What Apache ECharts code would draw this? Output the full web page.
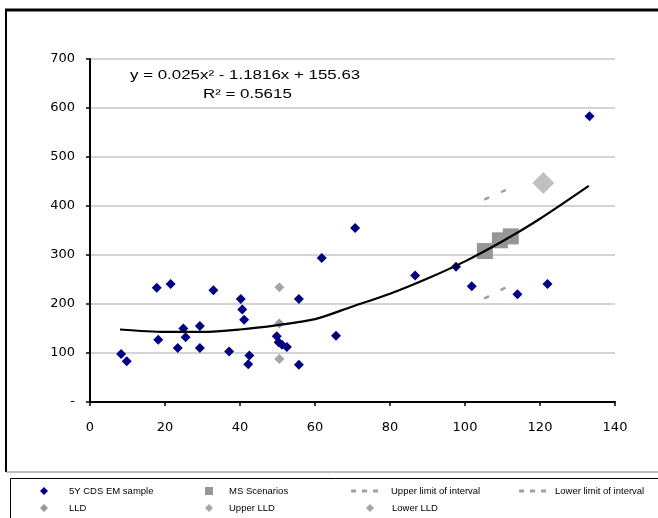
<!DOCTYPE html>
<html>
<head>
<meta charset="utf-8">
<script src="https://cdn.jsdelivr.net/npm/echarts@6/dist/echarts.min.js"></script>
<style>
    html, body { margin: 0; padding: 0; background: #fff; }
    #chart { width: 658px; height: 518px; }
</style>
</head>
<body>
<div id="chart"></div>
<script>
// 5Y CDS EM sample points [x, y]
const cdsSample = [
    [8.3, 98], [9.8, 83], [17.8, 233], [21.5, 241], [32.9, 228], [18.2, 127],
    [24.9, 150], [25.5, 132], [23.4, 110], [29.3, 155], [29.3, 110], [37.1, 103],
    [40.2, 210], [40.6, 189], [41.1, 168], [42.5, 95], [42.2, 77], [49.8, 134],
    [50.3, 122], [51.2, 117], [52.5, 112], [55.7, 210], [55.7, 76], [61.8, 294],
    [65.6, 135], [70.7, 355], [86.7, 258], [97.6, 276], [101.8, 236], [114, 220],
    [122, 241], [133.2, 583]
];
const msScenarios = [[105.3, 308], [109.3, 330], [112.2, 338]];
const upperLimit = [[105.1, 413], [110.9, 433]];
const lowerLimit = [[105.1, 211], [110.9, 234]];
const lld = [[50.5, 160]];
const upperLld = [[50.5, 234]];
const lowerLld = [[50.5, 88]];
const scenarioPeak = [[120.9, 447]];

// polynomial trend line
const trendX = [8, 20, 30, 40, 50, 60, 70, 80, 90, 100, 110, 120, 133];
const trendY = [148, 143, 143, 148, 157, 169, 195, 221, 252, 287, 328, 374, 441];

const xTicks = [0, 140, 20];
const yTicks = [0, 700, 100];

const navy = '#000080';
const font = 'Liberation Sans';

// one legend component per item so each can sit where the original has it
function legendItem(name, icon, left, top, w, h, pad) {
    return {
        data: [name],
        icon: icon,
        left: left,
        top: top,
        padding: 0,
        itemWidth: w,
        itemHeight: h,
        itemStyle: { borderWidth: 0 },
        textStyle: {
            fontFamily: font,
            fontSize: 9.5,
            color: '#000',
            padding: [0, 0, 0, pad]
        }
    };
}

const dashIcon = 'path://M0,0h5v3h-5zM11,0h5v3h-5zM22,0h5v3h-5z';

const chart = echarts.init(document.getElementById('chart'), null, { renderer: 'canvas' });
chart.setOption({
    animation: false,
    backgroundColor: '#fff',
    grid: { left: 90, top: 59, width: 525, height: 343 },
    xAxis: {
        type: 'value',
        min: xTicks[0],
        max: xTicks[1],
        interval: xTicks[2],
        axisLine: { show: true, lineStyle: { color: '#000', width: 2 } },
        axisTick: { show: true, length: 4, lineStyle: { color: '#000', width: 1.5 } },
        axisLabel: { margin: 19, color: '#000', fontFamily: 'DejaVu Sans', fontSize: 13 },
        splitLine: { show: false }
    },
    yAxis: {
        type: 'value',
        min: yTicks[0],
        max: yTicks[1],
        interval: yTicks[2],
        axisLine: { show: true, lineStyle: { color: '#000', width: 2 } },
        axisTick: { show: true, length: 4, lineStyle: { color: '#000', width: 1.5 } },
        axisLabel: {
            margin: 15,
            color: '#000',
            fontFamily: 'DejaVu Sans',
            fontSize: 13,
            formatter: function (v) { return v === 0 ? '-' : v; }
        },
        splitLine: { show: true, lineStyle: { color: '#d4d4d4', width: 2 } }
    },
    legend: [
        legendItem('5Y CDS EM sample', 'diamond', 40, 486, 8, 8, 16),
        legendItem('MS Scenarios', 'rect', 205, 486, 8, 8, 11),
        legendItem('Upper limit of interval', dashIcon, 351, 486, 27, 3, 8),
        legendItem('Lower limit of interval', dashIcon, 519, 486, 27, 3, 4),
        legendItem('LLD', 'diamond', 40, 503, 8, 8, 16),
        legendItem('Upper LLD', 'diamond', 205, 503, 8, 8, 11),
        legendItem('Lower LLD', 'diamond', 366, 503, 8, 8, 13)
    ],
    graphic: [
        // chart frame
        { type: 'line', shape: { x1: 5, y1: 10, x2: 658, y2: 10 }, style: { stroke: '#000', lineWidth: 3 } },
        { type: 'line', shape: { x1: 6, y1: 10, x2: 6, y2: 472 }, style: { stroke: '#000', lineWidth: 2 } },
        { type: 'line', shape: { x1: 6, y1: 472, x2: 658, y2: 472 }, style: { stroke: '#808080', lineWidth: 1 } },
        // legend box
        { type: 'rect', shape: { x: 10.5, y: 478.5, width: 700, height: 60 }, style: { fill: 'none', stroke: '#000', lineWidth: 1 } },
        // trend equation
        {
            type: 'text', x: 130, y: 75, scaleX: 1.3,
            style: { text: 'y = 0.025x² - 1.1816x + 155.63', font: '13px ' + font, fill: '#000', verticalAlign: 'middle' }
        },
        {
            type: 'text', x: 203, y: 94, scaleX: 1.3,
            style: { text: 'R² = 0.5615', font: '13px ' + font, fill: '#000', verticalAlign: 'middle' }
        }
    ],
    series: [
        {
            name: '5Y CDS EM sample',
            type: 'scatter',
            symbol: 'diamond',
            symbolSize: 10,
            itemStyle: { color: navy, opacity: 1 },
            data: cdsSample,
            z: 3
        },
        {
            name: 'MS Scenarios',
            type: 'scatter',
            symbol: 'rect',
            symbolSize: 16,
            itemStyle: { color: '#969696', opacity: 1 },
            data: msScenarios,
            z: 2
        },
        {
            name: 'Upper limit of interval',
            type: 'line',
            showSymbol: false,
            symbol: 'none',
            itemStyle: { color: '#a0a0a0' },
            lineStyle: { color: '#a0a0a0', width: 2.5, type: [5.5, 13] },
            data: upperLimit
        },
        {
            name: 'Lower limit of interval',
            type: 'line',
            showSymbol: false,
            symbol: 'none',
            itemStyle: { color: '#a0a0a0' },
            lineStyle: { color: '#a0a0a0', width: 2.5, type: [5.5, 13] },
            data: lowerLimit
        },
        {
            name: 'LLD',
            type: 'scatter',
            symbol: 'diamond',
            symbolSize: 10,
            itemStyle: { color: '#999999', opacity: 1 },
            data: lld,
            z: 3
        },
        {
            name: 'Upper LLD',
            type: 'scatter',
            symbol: 'diamond',
            symbolSize: 10,
            itemStyle: { color: '#a6a6a6', opacity: 1 },
            data: upperLld,
            z: 3
        },
        {
            name: 'Lower LLD',
            type: 'scatter',
            symbol: 'diamond',
            symbolSize: 10,
            itemStyle: { color: '#a6a6a6', opacity: 1 },
            data: lowerLld,
            z: 3
        },
        {
            name: 'Scenario peak',
            type: 'scatter',
            symbol: 'diamond',
            symbolSize: 22,
            itemStyle: { color: '#c0c0c0', opacity: 1 },
            data: scenarioPeak,
            z: 2
        },
        {
            name: 'Trend',
            type: 'line',
            smooth: 0.3,
            symbol: 'none',
            lineStyle: { color: '#000', width: 2.2 },
            data: trendX.map(function (x, i) { return [x, trendY[i]]; }),
            z: 4
        }
    ]
});
</script>
</body>
</html>
